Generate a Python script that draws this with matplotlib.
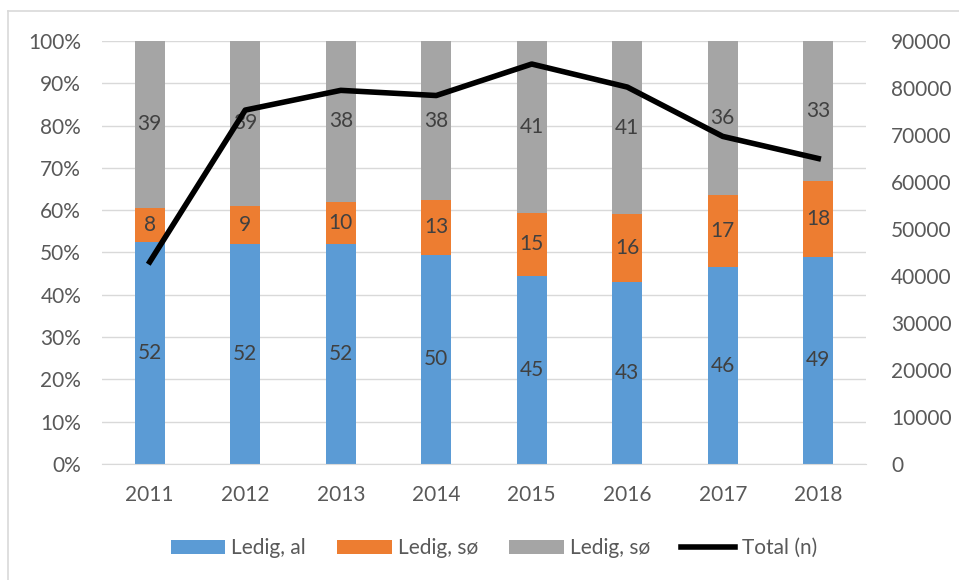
import numpy as np
import matplotlib.pyplot as plt
from matplotlib.lines import Line2D

years = ["2011", "2012", "2013", "2014", "2015", "2016", "2017", "2018"]
ledig_al = [52, 52, 52, 50, 45, 43, 46, 49]
ledig_so1 = [8, 9, 10, 13, 15, 16, 17, 18]
ledig_so2 = [39, 39, 38, 38, 41, 41, 36, 33]
total_n = [43000, 75300, 79500, 78400, 85100, 80200, 69700, 65000]

plt.rcParams['font.family'] = ['Lato', 'DejaVu Sans']
txt = "#595959"
fs = 15

al = np.array(ledig_al, dtype=float)
s1 = np.array(ledig_so1, dtype=float)
s2 = np.array(ledig_so2, dtype=float)
tot = al + s1 + s2
p_al = al / tot * 100
p_s1 = s1 / tot * 100
p_s2 = s2 / tot * 100

fig = plt.figure(figsize=(9.59, 5.80), dpi=100)
ax = fig.add_axes([102/959, 1 - 464/580, 764/959, 423/580])
x = np.arange(len(years))
w = 0.31

ax.bar(x, p_al, w, color="#5B9BD5", label="Ledig, al", zorder=2)
ax.bar(x, p_s1, w, bottom=p_al, color="#ED7D31", label="Ledig, sø", zorder=2)
ax.bar(x, p_s2, w, bottom=p_al + p_s1, color="#A5A5A5", label="Ledig, sø", zorder=2)

for i in range(len(years)):
    ax.text(x[i], p_al[i] / 2, str(ledig_al[i]), ha="center", va="center", fontsize=fs, color="#404040", zorder=3)
    ax.text(x[i], p_al[i] + p_s1[i] / 2, str(ledig_so1[i]), ha="center", va="center", fontsize=fs, color="#404040", zorder=3)
    ax.text(x[i], p_al[i] + p_s1[i] + p_s2[i] / 2, str(ledig_so2[i]), ha="center", va="center", fontsize=fs, color="#404040", zorder=3)

ax.set_xlim(-0.5, len(years) - 0.5)
ax.set_ylim(0, 100)
ax.set_yticks(np.arange(0, 101, 10))
ax.set_yticklabels([f"{v}%" for v in range(0, 101, 10)])
ax.set_xticks(x)
ax.set_xticklabels(years)
ax.grid(axis="y", color="#D9D9D9", linewidth=1, zorder=0)
for s in ax.spines.values():
    s.set_visible(False)
ax.spines["bottom"].set_visible(True)
ax.spines["bottom"].set_color("#D9D9D9")
ax.tick_params(length=0, labelsize=fs, colors=txt)
ax.tick_params(axis="y", pad=15)
ax.tick_params(axis="x", pad=15)

ax2 = ax.twinx()
ax2.plot(x, total_n, color="black", linewidth=4, label="Total (n)", zorder=4)
ax2.set_ylim(0, 90000)
ax2.set_yticks(np.arange(0, 90001, 10000))
for s in ax2.spines.values():
    s.set_visible(False)
ax2.tick_params(length=0, labelsize=fs, colors=txt, pad=18)

h1, l1 = ax.get_legend_handles_labels()
h2, l2 = ax2.get_legend_handles_labels()
fig.legend(h1 + h2, l1 + l2, loc="center", bbox_to_anchor=(494/959, 1 - 548/580), ncol=4,
           frameon=False, fontsize=fs, labelcolor=txt, handlelength=2.6, handleheight=0.65,
           columnspacing=1.5, handletextpad=0.3)

fig.add_artist(Line2D([8/959, 8/959], [0, 1 - 11/580], color="#D9D9D9", linewidth=1.2))
fig.add_artist(Line2D([8/959, 1], [1 - 11/580, 1 - 11/580], color="#D9D9D9", linewidth=1.2))

fig.savefig("out.png", dpi=100)
